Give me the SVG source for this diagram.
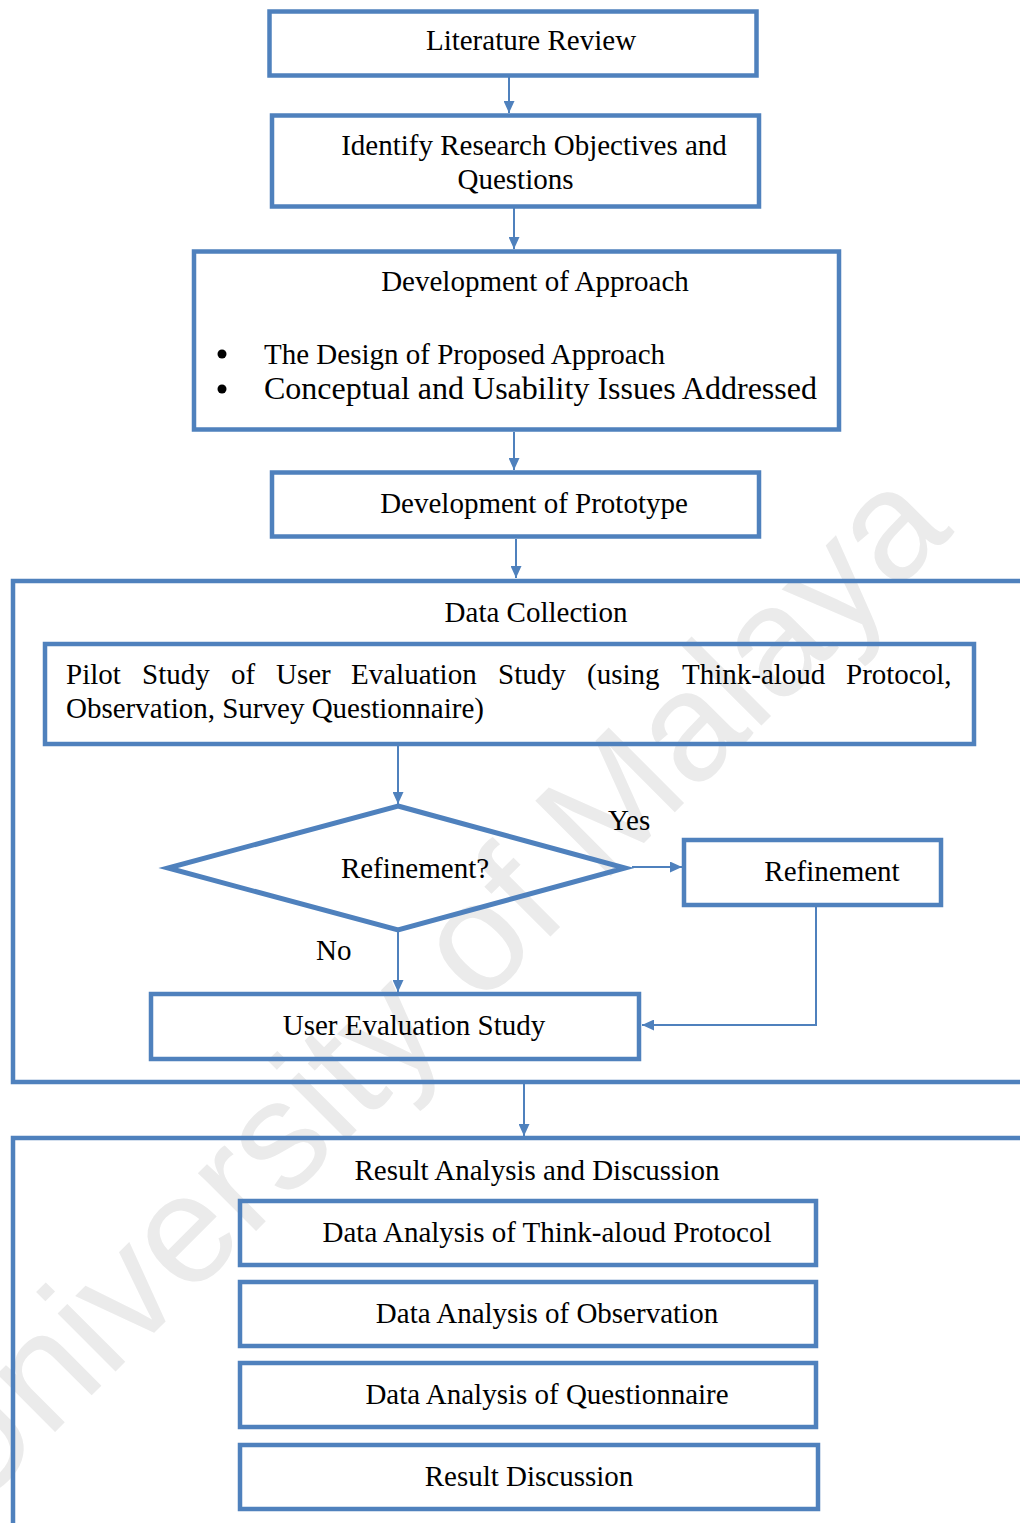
<svg xmlns="http://www.w3.org/2000/svg" width="1020" height="1523" viewBox="0 0 1020 1523">
  <style>
    .box { fill: none; stroke: #4F81BD; stroke-width: 4.5; }
    .frame { fill: none; stroke: #4F81BD; stroke-width: 4.5; }
    .link { fill: none; stroke: #4F81BD; stroke-width: 2; }
    .lbl { font-family: "Liberation Serif", "Times New Roman", serif; font-size: 29px; fill: #000; }
    .mid { text-anchor: middle; }
    .wm { font-family: "Liberation Sans", Arial, sans-serif; font-size: 155px; fill: #ebebeb; }
  </style>
  <defs>
    <marker id="arrow" markerUnits="userSpaceOnUse" markerWidth="12" markerHeight="11" refX="12" refY="5.5" orient="auto">
      <path d="M0,0 L12,5.5 L0,11 Z" fill="#4F81BD"/>
    </marker>
  </defs>

  <rect width="1020" height="1523" fill="#fff"/>

  <!-- background watermark -->
  <text class="wm" text-anchor="end" transform="translate(955,532) rotate(-45)">University of Malaya</text>

  <!-- top sequence -->
  <g id="literature-review">
    <rect class="box" x="269.5" y="11.5" width="487" height="64"/>
    <text class="lbl mid" x="531" y="50">Literature Review</text>
  </g>
  <g id="research-objectives">
    <rect class="box" x="272" y="115.5" width="487" height="91"/>
    <text class="lbl mid" x="534" y="155">Identify Research Objectives and</text>
    <text class="lbl mid" x="515.5" y="189">Questions</text>
  </g>
  <g id="approach">
    <rect class="box" x="194" y="251.5" width="645" height="178"/>
    <text class="lbl mid" x="535" y="291">Development of Approach</text>
    <circle cx="222" cy="354" r="4.5" fill="#000"/>
    <circle cx="222" cy="389" r="4.5" fill="#000"/>
    <text class="lbl" x="264" y="364">The Design of Proposed Approach</text>
    <text class="lbl" x="264" y="399" style="font-size:32px" textLength="553" lengthAdjust="spacingAndGlyphs">Conceptual and Usability Issues Addressed</text>
  </g>
  <g id="prototype">
    <rect class="box" x="272" y="472.5" width="487" height="64"/>
    <text class="lbl mid" x="534" y="513">Development of Prototype</text>
  </g>

  <!-- data collection stage -->
  <g id="data-collection">
    <path class="frame" d="M1030,581 H13 V1082 H1030"/>
    <text class="lbl mid" x="536" y="622">Data Collection</text>
  </g>
  <g id="pilot-study">
    <rect class="box" x="45" y="644" width="929" height="100"/>
    <text class="lbl" y="684"><tspan x="66">Pilot</tspan><tspan x="142">Study</tspan><tspan x="231">of</tspan><tspan x="276">User</tspan><tspan x="351">Evaluation</tspan><tspan x="498">Study</tspan><tspan x="587">(using</tspan><tspan x="682">Think-aloud</tspan><tspan x="846">Protocol,</tspan></text>
    <text class="lbl" x="66" y="718">Observation, Survey Questionnaire)</text>
  </g>
  <g id="refinement-decision">
    <polygon points="398,806 625,868 398,930 168,868" fill="none" stroke="#4F81BD" stroke-width="5" stroke-linejoin="miter" stroke-miterlimit="10"/>
    <text class="lbl mid" x="415" y="878">Refinement?</text>
  </g>
  <g id="refinement">
    <rect class="box" x="684" y="840" width="257" height="65"/>
    <text class="lbl mid" x="832" y="881">Refinement</text>
  </g>
  <g id="user-evaluation">
    <rect class="box" x="151" y="994" width="488" height="65"/>
    <text class="lbl mid" x="414" y="1035">User Evaluation Study</text>
  </g>

  <!-- result stage -->
  <g id="result-analysis">
    <path class="frame" d="M1030,1138 H13 V1540"/>
    <text class="lbl mid" x="537" y="1180">Result Analysis and Discussion</text>
  </g>
  <g id="think-aloud-analysis">
    <rect class="box" x="240" y="1201" width="576" height="64"/>
    <text class="lbl mid" x="547" y="1242">Data Analysis of Think-aloud Protocol</text>
  </g>
  <g id="observation-analysis">
    <rect class="box" x="240" y="1282" width="576" height="64"/>
    <text class="lbl mid" x="547" y="1323">Data Analysis of Observation</text>
  </g>
  <g id="questionnaire-analysis">
    <rect class="box" x="240" y="1363" width="576" height="64"/>
    <text class="lbl mid" x="547" y="1404">Data Analysis of Questionnaire</text>
  </g>
  <g id="result-discussion">
    <rect class="box" x="240" y="1445" width="578" height="64"/>
    <text class="lbl mid" x="529" y="1486">Result Discussion</text>
  </g>

  <!-- connectors -->
  <g id="connectors">
    <line class="link" x1="509" y1="77" x2="509" y2="113" marker-end="url(#arrow)"/>
    <line class="link" x1="514" y1="208" x2="514" y2="249" marker-end="url(#arrow)"/>
    <line class="link" x1="514" y1="432" x2="514" y2="470" marker-end="url(#arrow)"/>
    <line class="link" x1="516" y1="539" x2="516" y2="578" marker-end="url(#arrow)"/>
    <line class="link" x1="398" y1="746" x2="398" y2="804" marker-end="url(#arrow)"/>
    <line class="link" x1="632" y1="867" x2="682" y2="867" marker-end="url(#arrow)"/>
    <line class="link" x1="398" y1="932" x2="398" y2="992" marker-end="url(#arrow)"/>
    <polyline class="link" points="816,907 816,1025 642,1025" marker-end="url(#arrow)"/>
    <line class="link" x1="524" y1="1084" x2="524" y2="1136" marker-end="url(#arrow)"/>
    <text class="lbl" x="608" y="830">Yes</text>
    <text class="lbl" x="316" y="960">No</text>
  </g>
</svg>
